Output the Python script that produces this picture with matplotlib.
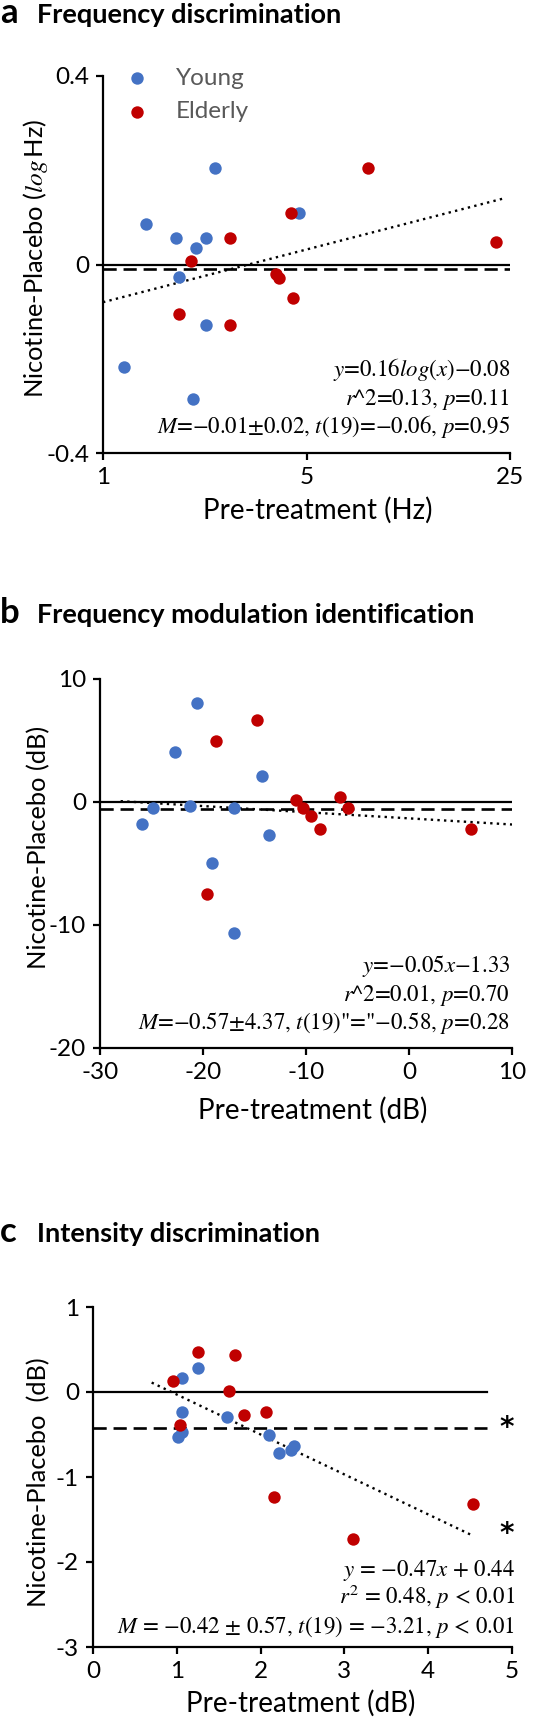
import numpy as np
import matplotlib.pyplot as plt
from matplotlib.ticker import FixedLocator, NullLocator, FixedFormatter

plt.rcParams['font.family'] = ['Lato', 'DejaVu Sans']
plt.rcParams['mathtext.fontset'] = 'stix'
plt.rcParams['axes.unicode_minus'] = False

BLUE = '#4472C4'
RED = '#C00000'

# panel a: frequency discrimination (x on log axis)
a_young_x = [1.41, 1.78, 2.25, 2.08, 2.43, 4.72, 1.82, 2.25, 1.18, 2.04]
a_young_y = [0.086, 0.057, 0.057, 0.034, 0.204, 0.109, -0.027, -0.129, -0.217, -0.285]
a_old_x = [2.00, 2.72, 4.44, 8.13, 22.4, 3.94, 4.03, 4.51, 1.82, 2.72]
a_old_y = [0.007, 0.057, 0.109, 0.204, 0.047, -0.021, -0.029, -0.071, -0.106, -0.129]
a_fit = (0.16, -0.08)
a_fit_range = (1, 24)
a_mean = -0.01
a_stats = [r'$y$=0.16$log$($x$)−0.08',
           r'$r$^2=0.13, $p$=0.11',
           r'$M$=−0.01±0.02, $t$(19)=−0.06, $p$=0.95']

# panel b: frequency modulation identification
b_young_x = [-20.55, -22.7, -14.3, -24.9, -21.3, -17.0, -25.9, -13.6, -19.1, -16.95]
b_young_y = [8.01, 4.06, 2.13, -0.50, -0.30, -0.50, -1.82, -2.71, -4.96, -10.67]
b_old_x = [-18.7, -14.8, -11.0, -10.3, -9.55, -8.6, -6.69, -5.97, 6.04, -19.6]
b_old_y = [4.94, 6.69, 0.19, -0.50, -1.16, -2.21, 0.39, -0.50, -2.21, -7.51]
b_fit = (-0.05, -1.33)
b_fit_range = (-28, 10)
b_mean = -0.57
b_stats = [r'$y$=−0.05$x$−1.33',
           r'$r$^2=0.01, $p$=0.70',
           r'$M$=−0.57±4.37, $t$(19)"="−0.58, $p$=0.28']

# panel c: intensity discrimination
c_young_x = [1.066, 1.249, 1.066, 1.599, 1.066, 1.018, 2.10, 2.22, 2.363, 2.395]
c_young_y = [0.165, 0.285, -0.231, -0.292, -0.469, -0.535, -0.504, -0.715, -0.685, -0.631]
c_old_x = [0.951, 1.249, 1.69, 1.627, 1.806, 2.068, 1.042, 2.156, 3.099, 4.539]
c_old_y = [0.135, 0.465, 0.438, 0.015, -0.269, -0.231, -0.385, -1.231, -1.725, -1.322]
c_fit = (-0.47, 0.44)
c_fit_range = (0.7, 4.5)
c_mean = -0.42
c_stats = [r'$y$ = −0.47$x$ + 0.44',
           r'$r^2$ = 0.48, $p$ < 0.01',
           r'$M$ = −0.42 ± 0.57, $t$(19) = −3.21, $p$ < 0.01']

W, H = 560, 1725
fig = plt.figure(figsize=(W / 100, H / 100), dpi=100)


def box(l, t, r, b):
    return [l / W, 1 - b / H, (r - l) / W, (b - t) / H]


def style(ax):
    for s in ['top', 'right']:
        ax.spines[s].set_visible(False)
    for s in ['left', 'bottom']:
        ax.spines[s].set_linewidth(1.6)
    ax.tick_params(direction='out', length=5, width=1.6, labelsize=17.5, pad=5)


def panel(ax, yx, yy, ox, oy, fit, fit_range, mean, stats, logx=False,
          line_end=None, text_right=1.0, text_y=(0.205, 0.128, 0.052), fs=16.5):
    ax.scatter(yx, yy, s=80, color=BLUE, zorder=3, label='Young', linewidths=0)
    ax.scatter(ox, oy, s=80, color=RED, zorder=4, label='Elderly', linewidths=0)
    xl = ax.get_xlim()
    x0 = xl[0]
    x1 = line_end if line_end is not None else xl[1]
    ax.plot([x0, x1], [0, 0], color='black', lw=1.6, zorder=2)
    ax.plot([x0, x1], [mean, mean], color='black', lw=1.9, ls=(0, (5, 2.6)), zorder=2)
    fx = np.array(fit_range, dtype=float)
    if logx:
        fx = np.geomspace(fx[0], fx[1], 50)
        fy = fit[0] * np.log10(fx) + fit[1]
    else:
        fy = fit[0] * fx + fit[1]
    ax.plot(fx, fy, color='black', lw=1.7, ls=(0, (1, 1.8)), zorder=2)
    for s, ty in zip(stats, text_y):
        ax.text(text_right, ty, s, transform=ax.transAxes, ha='right',
                va='baseline', fontsize=fs, family='STIXGeneral')
    style(ax)


LAB = 20
YLAB = 18.3

# ---- a
ax = fig.add_axes(box(103, 76, 510, 453))
ax.set_xscale('log')
ax.set_xlim(1, 25)
ax.set_ylim(-0.4, 0.4)
ax.xaxis.set_major_locator(FixedLocator([1, 5, 25]))
ax.xaxis.set_major_formatter(FixedFormatter(['1', '5', '25']))
ax.xaxis.set_minor_locator(NullLocator())
ax.set_yticks([-0.4, 0, 0.4])
ax.set_yticklabels(['-0.4', '0', '0.4'])
panel(ax, a_young_x, a_young_y, a_old_x, a_old_y, a_fit, a_fit_range, a_mean,
      a_stats, logx=True, line_end=25)
ax.set_xlabel('Pre-treatment (Hz)', fontsize=LAB)
ax.set_ylabel(r'Nicotine-Placebo ($log\,$Hz)', fontsize=YLAB)
ax.xaxis.set_label_coords((318 - 103) / 407, -(510 - 453) / 377)
ax.xaxis.label.set_va('center')
ax.yaxis.set_label_coords(-(103 - 50) / 407, (453 - 258) / 377)
leg = ax.legend(loc='upper left', bbox_to_anchor=(-0.03, 1.08), frameon=False,
                fontsize=17.5, handletextpad=0.6, labelspacing=0.5, markerscale=1.0)
for t in leg.get_texts():
    t.set_color('#595959')

# ---- b
ax = fig.add_axes(box(100, 679, 512, 1048))
ax.set_xlim(-30, 10)
ax.set_ylim(-20, 10)
ax.set_xticks([-30, -20, -10, 0, 10])
ax.set_yticks([-20, -10, 0, 10])
panel(ax, b_young_x, b_young_y, b_old_x, b_old_y, b_fit, b_fit_range, b_mean,
      b_stats, text_right=0.995)
ax.set_xlabel('Pre-treatment (dB)', fontsize=LAB)
ax.set_ylabel('Nicotine-Placebo (dB)', fontsize=YLAB)
ax.xaxis.set_label_coords((313 - 100) / 412, -(1110 - 1048) / 369)
ax.xaxis.label.set_va('center')
ax.yaxis.set_label_coords(-(100 - 50) / 412, (1048 - 847) / 369)

# ---- c
ax = fig.add_axes(box(93, 1307, 512, 1647))
ax.set_xlim(0, 5)
ax.set_ylim(-3, 1)
ax.set_xticks([0, 1, 2, 3, 4, 5])
ax.set_yticks([-3, -2, -1, 0, 1])
panel(ax, c_young_x, c_young_y, c_old_x, c_old_y, c_fit, c_fit_range, c_mean,
      c_stats, line_end=4.7, text_right=1.007, text_y=(0.209, 0.126, 0.041))
ax.text(4.94, c_mean, '*', ha='center', va='center', fontsize=20,
        weight='bold', family='DejaVu Sans')
ax.text(4.94, c_fit[0] * c_fit_range[1] + c_fit[1], '*', ha='center', va='center',
        fontsize=20, weight='bold', family='DejaVu Sans')
ax.set_xlabel('Pre-treatment (dB)', fontsize=LAB)
ax.set_ylabel('Nicotine-Placebo  (dB)', fontsize=YLAB)
ax.xaxis.set_label_coords((301 - 93) / 419, -(1703 - 1647) / 340)
ax.xaxis.label.set_va('center')
ax.yaxis.set_label_coords(-(93 - 50) / 419, (1647 - 1482) / 340)

# panel titles
for letter, title, base in [('a', 'Frequency discrimination', 23),
                            ('b', 'Frequency modulation identification', 623),
                            ('c', 'Intensity discrimination', 1242)]:
    fig.text(0.0, 1 - base / H, letter, fontsize=25, weight='bold', va='baseline')
    fig.text(37 / W, 1 - base / H, title, fontsize=19.5, weight='bold', va='baseline')

fig.savefig('out.png', dpi=100)
